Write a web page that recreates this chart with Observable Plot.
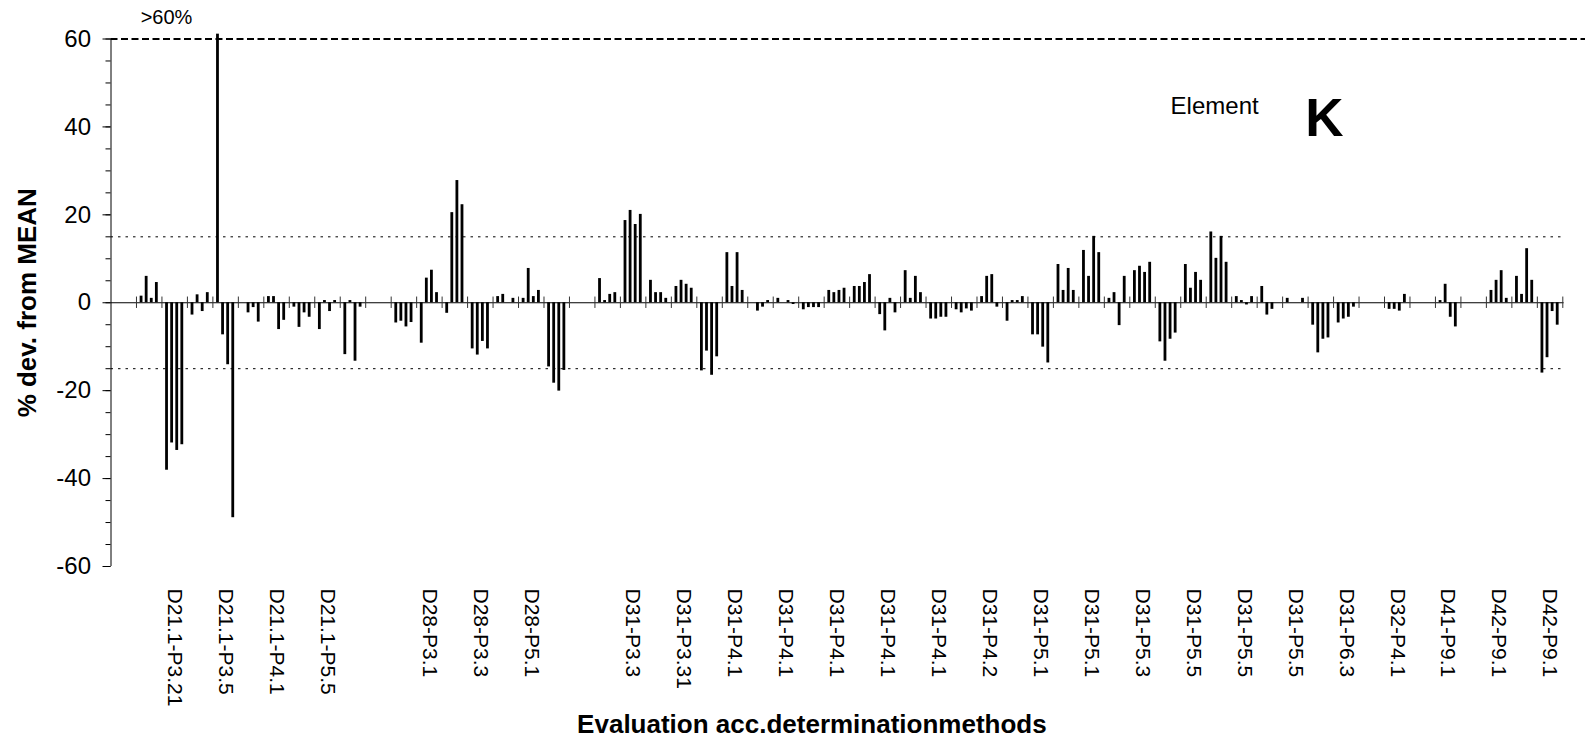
<!DOCTYPE html>
<html><head><meta charset="utf-8">
<script src="https://cdn.jsdelivr.net/npm/d3@7"></script>
<script src="https://cdn.jsdelivr.net/npm/@observablehq/plot@0.6"></script>
<style>body{margin:0;background:#fff} svg{display:block}</style>
</head><body><div id="chart"></div>
<script>
// Labels shown on every other category (positions 0,2,4,...,56)
const tickLabels = ["", "D21.1-P3.21", "D21.1-P3.5", "D21.1-P4.1", "D21.1-P5.5", "",
  "D28-P3.1", "D28-P3.3", "D28-P5.1", "",
  "D31-P3.3", "D31-P3.31", "D31-P4.1", "D31-P4.1", "D31-P4.1", "D31-P4.1", "D31-P4.1",
  "D31-P4.2", "D31-P5.1", "D31-P5.1", "D31-P5.3", "D31-P5.5", "D31-P5.5", "D31-P5.5",
  "D31-P6.3", "D32-P4.1", "D41-P9.1", "D42-P9.1", "D42-P9.1"];

// four series per category (57 categories), % deviation from mean
const series1 = [null, 1.5, -38.1, -2.8, 61.1, null, 1.4, -1.0, -6.1, -11.8, null, -4.6, -9.2, -2.4, -10.5, 1.4, 1.0, -14.6, null, 5.5, 18.7, 5.1, 3.7, -15.5, 11.4, null, 1.0, -1.6, 2.8, 3.7, -2.7, 7.3, -3.7, -1.6, 1.4, -4.2, -7.3, 8.7, 11.9, 1.0, 7.3, -8.9, 8.7, 16.1, 1.4, 3.7, 1.0, -5.1, -4.6, null, -1.5, null, 0.5, null, 2.8, 6.0, -16.0];
const series2 = [null, 6.0, -31.9, 1.8, -7.3, -2.3, 1.4, -5.6, 0.5, 0.5, null, -4.2, 5.6, 20.5, -11.9, 1.9, 7.8, -18.3, null, 0.5, 21.0, 2.3, 5.1, -11.0, 3.7, -1.9, null, -1.1, 2.3, 3.7, -6.4, 1.0, -3.7, -2.3, 6.0, 0.5, -7.3, 2.8, 6.0, 2.3, 8.3, -13.3, 3.3, 10.1, 0.5, -2.8, null, -11.4, -3.7, null, -1.5, null, 4.2, null, 5.1, 1.9, -12.5];
const series3 = [null, 1.0, -33.6, -2.0, -14.1, -1.1, -6.1, -2.3, -2.0, -13.3, null, -5.5, 7.4, 27.8, -8.8, null, 1.4, -20.1, null, 1.9, 17.8, 2.3, 4.2, -16.5, 11.4, -1.0, 0.5, -1.1, 2.8, 4.6, 1.0, 6.0, -3.3, -1.4, 6.4, 0.5, -10.1, 7.8, 15.1, -5.2, 6.9, -8.3, 6.9, 15.1, -0.5, -1.5, null, -8.3, -3.3, null, -1.9, null, -3.3, null, 7.3, 12.3, -2.0];
const series4 = [null, 4.6, -32.3, 2.3, -48.9, -4.4, -4.0, -3.3, 0.5, -1.0, null, -4.5, 2.3, 22.3, -10.5, 1.0, 2.8, -15.4, null, 2.3, 20.1, 1.0, 3.3, -12.3, 2.8, 0.5, -0.4, -1.1, 3.3, 6.4, -2.3, 2.3, -3.3, -1.9, -1.0, 1.4, -13.7, 2.8, 11.4, 6.0, 9.2, -6.9, 5.1, 9.2, 1.4, null, 1.0, -8.0, -1.0, null, 1.9, null, -5.5, null, 1.0, 5.1, -5.1];

const yTicks = [-60, -40, -20, 0, 20, 40, 60];
const yMinorTicks = d3.range(-60, 61, 5);
const limits = [15, -15];

const nCat = series1.length;
const allSeries = [series1, series2, series3, series4];
const rows = [];
allSeries.forEach((s, k) => s.forEach((v, c) => { if (v != null) rows.push({c, k, v}); }));
const labelRows = tickLabels.map((label, j) => ({pos: 2 * j + 0.5, label})).filter(d => d.label);

const bw = 0.11;
const font = "Liberation Sans, Arial, Helvetica, sans-serif";

const chart = Plot.plot({
  width: 1585,
  height: 743,
  marginLeft: 110.5,
  marginRight: 22.7,
  marginTop: 38.5,
  marginBottom: 177,
  style: {fontFamily: font, background: "#fff", color: "#000", overflow: "visible"},
  x: {domain: [0, nCat], axis: null},
  y: {domain: [-60, 60], axis: null},
  marks: [
    Plot.ruleY([60], {x1: 0, x2: nCat + 0.9, stroke: "#000", strokeWidth: 2, strokeDasharray: "7,3.5"}),
    Plot.ruleY(limits, {x1: 0, x2: nCat + 0.1, stroke: "#000", strokeWidth: 1, strokeDasharray: "2.5,5"}),
    Plot.rect(rows, {
      x1: d => d.c + (d.k + 1) / 5 - bw / 2,
      x2: d => d.c + (d.k + 1) / 5 + bw / 2,
      y1: 0, y2: "v", fill: "#000"
    }),
    Plot.ruleY([0], {x1: 0, x2: nCat + 0.05, stroke: "#000", strokeWidth: 1}),
    Plot.ruleX(d3.range(1, nCat + 1), {y1: -1.3, y2: 1.3, stroke: "#333", strokeWidth: 1}),
    Plot.ruleX([0], {y1: -60, y2: 60, stroke: "#000", strokeWidth: 1}),
    Plot.axisY({ticks: yMinorTicks, tickSize: 5, tickFormat: () => "", label: null}),
    Plot.axisY({ticks: yTicks, tickSize: 8, tickPadding: 12, fontSize: 24, label: null, tickFormat: d => String(d)}),
    Plot.text(labelRows, {x: "pos", y: -60, text: "label", rotate: 90, textAnchor: "start", dy: 22, fontSize: 21, fill: "#000"}),
    Plot.text(["% dev. from MEAN"], {frameAnchor: "left", textAnchor: "middle", dx: -83, rotate: -90, fontSize: 26, fontWeight: "bold", fill: "#000"}),
    Plot.text(["Evaluation acc.determinationmethods"], {frameAnchor: "bottom", textAnchor: "middle", dx: -25, dy: 166, fontSize: 26, fontWeight: "bold", fill: "#000"}),
    Plot.text([">60%"], {x: 2.18, y: 64.8, fontSize: 20, fill: "#000"}),
    Plot.text(["Element"], {x: 43.33, y: 44.6, fontSize: 24, fill: "#000"}),
    Plot.text(["K"], {x: 47.64, y: 41.7, fontSize: 53, fontWeight: "bold", fill: "#000"})
  ]
});
document.getElementById("chart").appendChild(chart);
</script>
</body></html>
